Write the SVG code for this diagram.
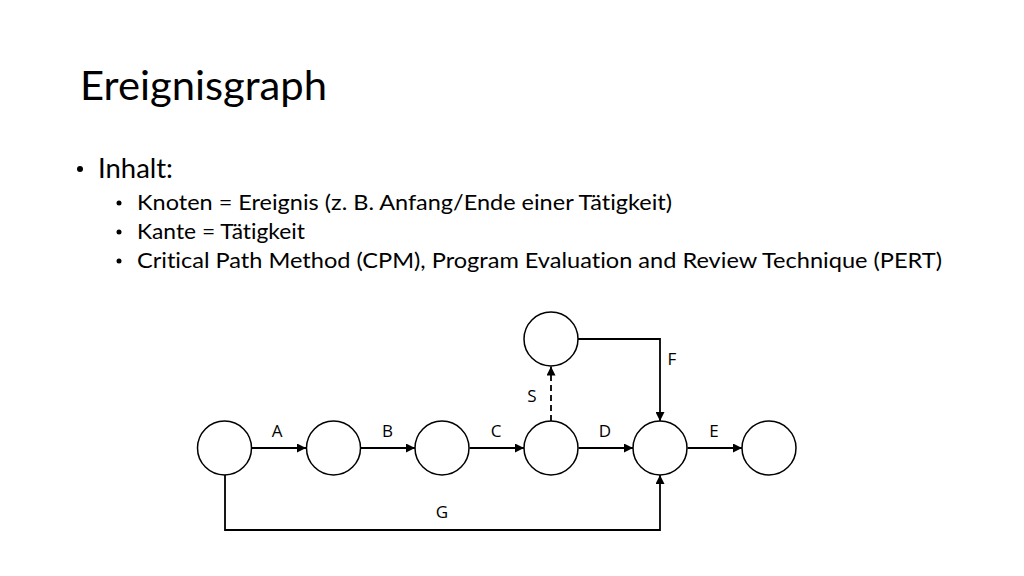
<svg xmlns="http://www.w3.org/2000/svg" width="1024" height="576" viewBox="0 0 1024 576">
<style>
.t{font-family:Lato,"Open Sans","Liberation Sans",sans-serif;fill:#000;font-variant-ligatures:none}
.node{fill:#fff;stroke:#000;stroke-width:1.5}
.edge{fill:none;stroke:#000;stroke-width:1.8}
.lbl{font-family:"Open Sans","Liberation Sans",sans-serif;font-size:17px;text-anchor:middle;fill:#000}
</style>
<defs>
<marker id="ah" viewBox="0 0 10 10" refX="10" refY="5" markerWidth="5" markerHeight="5" markerUnits="strokeWidth" orient="auto">
<path d="M0,0 L10,5 L0,10 Z" fill="#000"/>
</marker>
</defs>
<rect width="1024" height="576" fill="#fff"/>
<text class="t" x="80" y="100" font-size="41" textLength="247" lengthAdjust="spacingAndGlyphs">Ereignisgraph</text>
<g id="bullets">
<circle cx="80" cy="169" r="3" fill="#000"/>
<text class="t" x="98" y="178" font-size="27" textLength="75" lengthAdjust="spacingAndGlyphs">Inhalt:</text>
<circle cx="119" cy="203" r="2.5" fill="#000"/>
<text class="t" x="137" y="210" font-size="22" textLength="535" lengthAdjust="spacingAndGlyphs">Knoten = Ereignis (z. B. Anfang/Ende einer Tätigkeit)</text>
<circle cx="119" cy="232" r="2.5" fill="#000"/>
<text class="t" x="137" y="239" font-size="22" textLength="168" lengthAdjust="spacingAndGlyphs">Kante = Tätigkeit</text>
<circle cx="119" cy="261" r="2.5" fill="#000"/>
<text class="t" x="137" y="268" font-size="22" textLength="805" lengthAdjust="spacingAndGlyphs">Critical Path Method (CPM), Program Evaluation and Review Technique (PERT)</text>
</g>
<g id="connectors">
<line class="edge" x1="251.5" y1="448" x2="306" y2="448" marker-end="url(#ah)"/>
<line class="edge" x1="360.5" y1="448" x2="415" y2="448" marker-end="url(#ah)"/>
<line class="edge" x1="469.5" y1="448" x2="524" y2="448" marker-end="url(#ah)"/>
<line class="edge" x1="578.5" y1="448" x2="633" y2="448" marker-end="url(#ah)"/>
<line class="edge" x1="687.5" y1="448" x2="742" y2="448" marker-end="url(#ah)"/>
<line class="edge" x1="551" y1="421" x2="551" y2="366.5" stroke-dasharray="6,4" marker-end="url(#ah)"/>
<polyline class="edge" points="578,339 660,339 660,421" marker-end="url(#ah)"/>
<polyline class="edge" points="225,475 225,530 660,530 660,475" marker-end="url(#ah)"/>
<text class="lbl" x="277" y="437">A</text>
<text class="lbl" x="387.5" y="437">B</text>
<text class="lbl" x="496" y="437">C</text>
<text class="lbl" x="605" y="437">D</text>
<text class="lbl" x="714" y="437">E</text>
<text class="lbl" x="672" y="365">F</text>
<text class="lbl" x="532" y="402">S</text>
<text class="lbl" x="442" y="518">G</text>
</g>
<g id="n1"><circle class="node" cx="224.5" cy="448" r="27"/></g>
<g id="n2"><circle class="node" cx="333.5" cy="448" r="27"/></g>
<g id="n3"><circle class="node" cx="442" cy="448" r="27"/></g>
<g id="n4"><circle class="node" cx="551" cy="448" r="27"/></g>
<g id="n5"><circle class="node" cx="660" cy="448" r="27"/></g>
<g id="n6"><circle class="node" cx="769" cy="448" r="27"/></g>
<g id="n7"><circle class="node" cx="551" cy="339" r="27"/></g>
</svg>
